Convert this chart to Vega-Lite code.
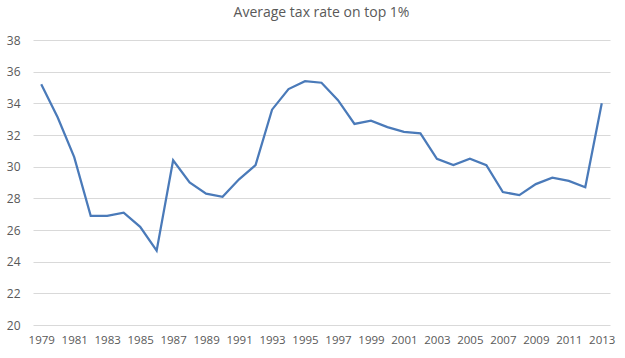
{
  "$schema": "https://vega.github.io/schema/vega-lite/v6.json",
  "width": 577,
  "height": 285,
  "autosize": {"type": "none"},
  "padding": {"left": 33, "top": 40, "right": 15, "bottom": 33},
  "background": "white",
  "config": {
    "view": {"stroke": null},
    "font": "Open Sans"
  },
  "title": {
    "text": "Average tax rate on top 1%",
    "fontSize": 14,
    "fontWeight": "normal",
    "color": "#595959",
    "font": "Open Sans",
    "anchor": "middle",
    "offset": 14
  },
  "data": {
    "values": [
      {"year": 1979, "rate": 35.2},
      {"year": 1980, "rate": 33.1},
      {"year": 1981, "rate": 30.6},
      {"year": 1982, "rate": 26.9},
      {"year": 1983, "rate": 26.9},
      {"year": 1984, "rate": 27.1},
      {"year": 1985, "rate": 26.2},
      {"year": 1986, "rate": 24.7},
      {"year": 1987, "rate": 30.4},
      {"year": 1988, "rate": 29.0},
      {"year": 1989, "rate": 28.3},
      {"year": 1990, "rate": 28.1},
      {"year": 1991, "rate": 29.2},
      {"year": 1992, "rate": 30.1},
      {"year": 1993, "rate": 33.6},
      {"year": 1994, "rate": 34.9},
      {"year": 1995, "rate": 35.4},
      {"year": 1996, "rate": 35.3},
      {"year": 1997, "rate": 34.2},
      {"year": 1998, "rate": 32.7},
      {"year": 1999, "rate": 32.9},
      {"year": 2000, "rate": 32.5},
      {"year": 2001, "rate": 32.2},
      {"year": 2002, "rate": 32.1},
      {"year": 2003, "rate": 30.5},
      {"year": 2004, "rate": 30.1},
      {"year": 2005, "rate": 30.5},
      {"year": 2006, "rate": 30.1},
      {"year": 2007, "rate": 28.4},
      {"year": 2008, "rate": 28.2},
      {"year": 2009, "rate": 28.9},
      {"year": 2010, "rate": 29.3},
      {"year": 2011, "rate": 29.1},
      {"year": 2012, "rate": 28.7},
      {"year": 2013, "rate": 34.0}
    ]
  },
  "mark": {"type": "line", "color": "#4a7ab9", "strokeWidth": 2.25, "interpolate": "linear"},
  "encoding": {
    "x": {
      "field": "year",
      "type": "ordinal",
      "scale": {"type": "point", "padding": 0.5},
      "axis": {
        "title": null,
        "values": [1979,1981,1983,1985,1987,1989,1991,1993,1995,1997,1999,2001,2003,2005,2007,2009,2011,2013],
        "labelAngle": 0,
        "labelFontSize": 11.5,
        "labelColor": "#595959",
        "labelPadding": 9,
        "ticks": false,
        "domain": false,
        "grid": false
      }
    },
    "y": {
      "field": "rate",
      "type": "quantitative",
      "scale": {"domain": [20, 38], "nice": false, "zero": false},
      "axis": {
        "title": null,
        "values": [20,22,24,26,28,30,32,34,36,38],
        "labelFontSize": 12,
        "labelColor": "#595959",
        "labelPadding": 13,
        "ticks": false,
        "domain": false,
        "grid": true,
        "gridColor": "#d9d9d9",
        "gridWidth": 1
      }
    }
  }
}
